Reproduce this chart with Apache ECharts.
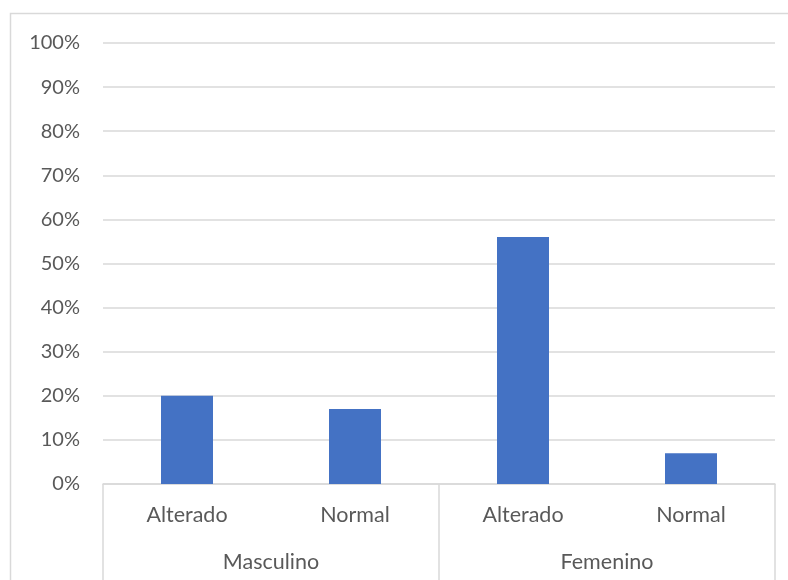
<!DOCTYPE html>
<html>
<head>
<meta charset="utf-8">
<script src="https://cdn.jsdelivr.net/npm/echarts@6/dist/echarts.min.js"></script>
<style>
  html, body { margin: 0; padding: 0; background: #fff; }
  #chart { width: 788px; height: 580px; }
</style>
</head>
<body>
<div id="chart"></div>
<script>
var categories = ['Alterado', 'Normal', 'Alterado', 'Normal'];
var groups = ['Masculino', 'Femenino'];
var values = [0.20, 0.17, 0.56, 0.07];
var yTicks = { min: 0, max: 1, interval: 0.1 };

window.onload = function () {
  var myChart = echarts.init(document.getElementById('chart'));
  var font = 'Lato, "Open Sans", sans-serif';
  var option = {
    animation: false,
    textStyle: { fontFamily: font },
    grid: { left: 103, right: 13, top: 43, bottom: 96 },
    graphic: [{
      type: 'rect',
      shape: { x: 10.5, y: 13.5, width: 800, height: 600 },
      style: { fill: 'none', stroke: '#d9d9d9', lineWidth: 1.5 },
      silent: true
    }],
    xAxis: [
      {
        type: 'category',
        data: categories,
        axisLine: { show: true, lineStyle: { color: '#d9d9d9', width: 1.5 } },
        axisTick: { show: false },
        axisLabel: { color: '#595959', fontSize: 21.5, fontFamily: font, margin: 20 }
      },
      {
        type: 'category',
        data: groups,
        position: 'bottom',
        axisLine: { show: false },
        axisTick: { show: true, length: 96, inside: false, lineStyle: { color: '#d9d9d9', width: 1.5 } },
        axisLabel: { color: '#595959', fontSize: 21.5, fontFamily: font, margin: 67 },
        splitLine: { show: false }
      }
    ],
    yAxis: {
      type: 'value',
      min: yTicks.min,
      max: yTicks.max,
      interval: yTicks.interval,
      axisLine: { show: false },
      axisTick: { show: false },
      axisLabel: {
        color: '#595959', fontSize: 20, fontFamily: font, margin: 23,
        formatter: function (v) { return Math.round(v * 100) + '%'; }
      },
      splitLine: { lineStyle: { color: '#d9d9d9', width: 1.5 } }
    },
    series: [{
      type: 'bar',
      xAxisIndex: 0,
      data: values,
      barWidth: 52,
      itemStyle: { color: '#4472c4' }
    }]
  };
  myChart.setOption(option);
};
</script>
</body>
</html>
